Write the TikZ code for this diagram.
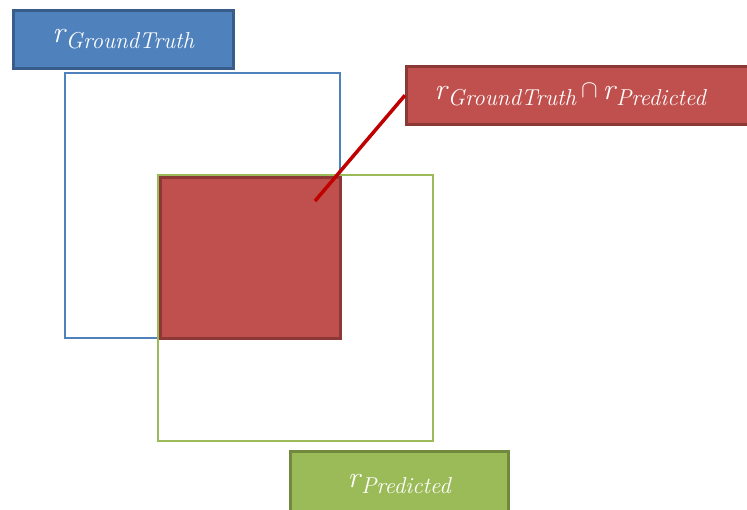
\documentclass[tikz,border=0pt]{standalone}
\usepackage{amssymb}
\definecolor{gtblue}{HTML}{4F81BD}
\definecolor{gtblueedge}{HTML}{385D8A}
\definecolor{prgreen}{HTML}{9BBB59}
\definecolor{prgreenedge}{HTML}{71893F}
\definecolor{isred}{HTML}{C0504D}
\definecolor{isrededge}{HTML}{8C3836}
\definecolor{leader}{HTML}{C00000}
% a region symbol r with an italic word as its index
\newcommand{\regsym}[1]{{\itshape r}\kern1pt\raisebox{-6pt}{\fontsize{23}{26}\selectfont\itshape #1}}
\begin{document}
\begin{tikzpicture}[x=1pt,y=-1pt,
  region/.style={line width=2.5pt},
  tag/.style={draw, line width=2.5pt, text=white, inner sep=0pt,
    font=\fontsize{30}{34}\selectfont},
  callout/.style={draw=leader, line width=3.5pt}]
\useasboundingbox (0,0) rectangle (747,509);
% ground-truth and predicted regions
\draw[region, draw=gtblue] (65,73) rectangle (340,338);
\draw[region, draw=prgreen] (158,175) rectangle (433,441);
% their overlap
\node[region, draw=isrededge, fill=isred, minimum width=180pt, minimum height=161pt,
  inner sep=0pt, anchor=north west] (overlap) at (159,176) {};
% labels
\node[tag, fill=gtblue, draw=gtblueedge, minimum width=220pt, minimum height=58pt,
  anchor=north west] (gt) at (12,9) {\regsym{GroundTruth}};
\node[tag, fill=isred, draw=isrededge, minimum width=360pt, minimum height=58pt,
  anchor=north west, text width=340pt, align=left] (inter) at (405,65)
  {\hspace*{18pt}\regsym{GroundTruth}\kern5pt\raisebox{2pt}{\fontsize{24}{28}\selectfont$\cap$}\kern5pt\regsym{Predicted}};
\node[tag, fill=prgreen, draw=prgreenedge, minimum width=218pt, minimum height=70pt,
  anchor=north west] (pr) at (289,450) {\raisebox{10pt}{\regsym{Predicted}}};
% leader from the overlap to its label
\coordinate (tip) at (315,201);
\draw[callout] (tip) -- (inter.west);
\end{tikzpicture}
\end{document}
